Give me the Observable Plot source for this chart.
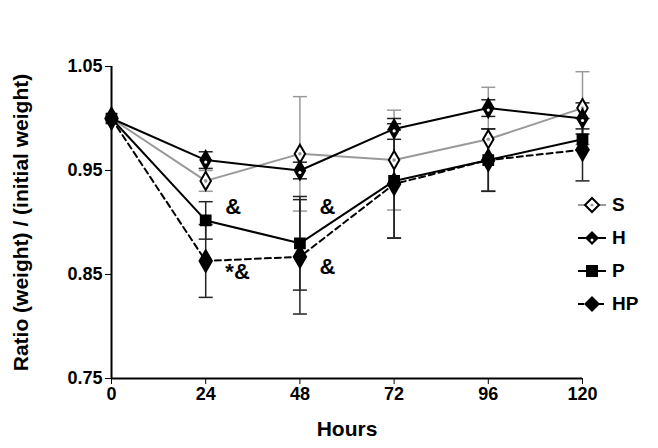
<!DOCTYPE html>
<html><head><meta charset="utf-8">
<script src="https://cdn.jsdelivr.net/npm/d3@7"></script>
<script src="https://cdn.jsdelivr.net/npm/@observablehq/plot@0.6"></script>
<style>
body{margin:0;background:#fff;font-family:"Liberation Sans",Arial,sans-serif}
#wrap{position:relative;width:658px;height:448px}
#legend{position:absolute;left:578px;top:188px;font-weight:bold;font-size:19px}
#legend div{display:flex;align-items:center;height:33px}
#legend span{margin-left:6px}
</style></head>
<body><div id="wrap"><div id="chart"></div><div id="legend"></div></div>
<script>
const hours = [0, 24, 48, 72, 96, 120]
const series = ['S', 'H', 'P', 'HP']
const sMean = [1.0, 0.940, 0.966, 0.960, 0.980, 1.010]
const sErr = [0, 0.010, 0.055, 0.048, 0.050, 0.035]
const hMean = [1.0, 0.960, 0.950, 0.990, 1.010, 1.000]
const hErr = [0, 0.008, 0.008, 0.010, 0.008, 0.015]
const pMean = [1.0, 0.902, 0.880, 0.940, 0.960, 0.980]
const pErr = [0, 0.018, 0.045, 0.055, 0.030, 0.010]
const hpMean = [1.0, 0.863, 0.867, 0.937, 0.960, 0.970]
const hpErr = [0, 0.035, 0.055, 0.052, 0.030, 0.030]
const notes = [
  {x: 29, y: 0.915, t: '&'}, {x: 53, y: 0.915, t: '&'},
  {x: 29, y: 0.852, t: '*&'}, {x: 53, y: 0.857, t: '&'}
]

const means = {S: sMean, H: hMean, P: pMean, HP: hpMean}
const errs = {S: sErr, H: hErr, P: pErr, HP: hpErr}
const data = series.flatMap(s => hours.map((h, i) => ({s, h, m: means[s][i], e: errs[s][i]})))
const bars = data.filter(d => d.e > 0)
const style = {
  S: {stroke: '#999', dash: null, sym: 'diamond', fill: 'white'},
  H: {stroke: 'black', dash: null, sym: 'diamond', fill: 'black'},
  P: {stroke: 'black', dash: null, sym: 'square', fill: 'black'},
  HP: {stroke: 'black', dash: '6,4', sym: 'diamond', fill: 'black'}
}
const cap = {draw(ctx, size) { const w = 7; ctx.moveTo(-w, 0); ctx.lineTo(w, 0) }}

const marks = [
  Plot.axisX({ticks: hours, tickSize: 6, label: null, tickPadding: 3}),
  Plot.axisY({ticks: [0.75, 0.85, 0.95, 1.05], tickFormat: d3.format('.2f'), tickSize: 6, label: null}),
  Plot.ruleX([0], {strokeWidth: 2}),
  Plot.ruleY([0.75], {strokeWidth: 2}),
]
for (const s of series) {
  const b = bars.filter(d => d.s === s)
  const c = s === 'S' ? '#999' : '#222'
  marks.push(
    Plot.ruleX(b, {x: 'h', y1: d => d.m - d.e, y2: d => d.m + d.e, stroke: c, strokeWidth: 1.5}),
    Plot.dot(b, {x: 'h', y: d => d.m - d.e, symbol: cap, stroke: c, strokeWidth: 1.5}),
    Plot.dot(b, {x: 'h', y: d => d.m + d.e, symbol: cap, stroke: c, strokeWidth: 1.5})
  )
}
for (const s of series) {
  const st = style[s]
  const d = data.filter(d => d.s === s)
  marks.push(
    Plot.line(d, {x: 'h', y: 'm', stroke: st.stroke, strokeWidth: 2, strokeDasharray: st.dash}),
    Plot.dot(d, {x: 'h', y: 'm', symbol: st.sym, r: s === 'HP' ? 6.5 : 5.5, fill: st.fill, stroke: 'black', strokeWidth: 2})
  )
  if (s === 'H') marks.push(Plot.dot(d, {x: 'h', y: 'm', r: 1.6, fill: 'white', dy: 2}))
  if (s === 'S') marks.push(Plot.dot(d, {x: 'h', y: 'm', r: 1.8, fill: '#999'}))
}
marks.push(Plot.text(notes, {x: 'x', y: 'y', text: 't', fontSize: 22, fontWeight: 'bold', textAnchor: 'start'}))
marks.push(Plot.text(['Hours'], {frameAnchor: 'bottom', dy: 57, fontSize: 21, fontWeight: 'bold'}))
marks.push(Plot.text(['Ratio (weight) / (initial weight)'], {frameAnchor: 'left', textAnchor: 'middle', dx: -90, rotate: -90, fontSize: 21, fontWeight: 'bold'}))

const chart = Plot.plot({
  width: 658, height: 448,
  marginLeft: 111, marginRight: 76, marginTop: 66, marginBottom: 70,
  style: {fontFamily: '"Liberation Sans", Arial, sans-serif', color: 'black'},
  x: {domain: [0, 120]},
  y: {domain: [0.75, 1.05]},
  marks
})
d3.select(chart).selectAll('g[aria-label$="tick label"]').attr('font-size', 18).attr('font-weight', 'bold')
  .selectAll('text').attr('font-size', 18)
d3.select('#chart').append(() => chart)

const sh = {
  S: '<polygon points="14,3 21,10 14,17 7,10" fill="white" stroke="black" stroke-width="2"/><circle cx="14" cy="10" r="1.5" fill="#999"/>',
  H: '<polygon points="14,3 21,10 14,17 7,10" fill="black"/><circle cx="14" cy="12" r="1.5" fill="white"/>',
  P: '<rect x="8" y="4" width="12" height="12" fill="black"/>',
  HP: '<polygon points="14,2 22,10 14,18 6,10" fill="black"/>'
}
const lg = d3.select('#legend')
for (const s of series) {
  const st = style[s]
  lg.append('div').html(`<svg width="28" height="20"><line x1="0" x2="28" y1="10" y2="10" stroke="${st.stroke}" stroke-width="2" ${st.dash ? 'stroke-dasharray="6,4"' : ''}/>${sh[s]}</svg><span>${s}</span>`)
}
</script></body></html>
